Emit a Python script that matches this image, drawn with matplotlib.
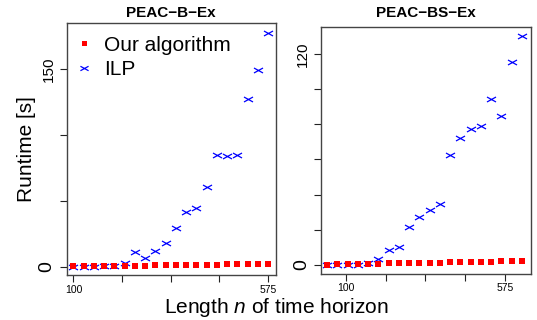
import matplotlib
matplotlib.use("Agg")
import matplotlib.pyplot as plt
from matplotlib.path import Path

plt.rcParams['font.family'] = ['Liberation Sans', 'DejaVu Sans']
plt.rcParams['mathtext.fontset'] = 'custom'
plt.rcParams['mathtext.rm'] = 'Liberation Sans'
plt.rcParams['mathtext.it'] = 'Liberation Sans:italic'

n_vals = [100, 125, 150, 175, 200, 225, 250, 275, 300, 325,
          350, 375, 400, 425, 450, 475, 500, 525, 550, 575]

b_ours = [0.2, 0.3, 0.4, 0.5, 0.6, 0.7, 0.8, 0.9, 1.0, 1.1,
          1.2, 1.3, 1.4, 1.5, 1.6, 1.7, 1.8, 1.9, 2.0, 2.3]
b_ilp = [0.0, 0.0, 0.0, 0.5, 0.5, 2.5, 11.4, 6.3, 12.2, 18.0,
         29.2, 41.8, 44.9, 60.8, 85.1, 84.4, 84.9, 127.5, 149.5, 177.8]

bs_ours = [0.2, 0.3, 0.4, 0.5, 0.7, 0.8, 0.9, 1.0, 1.1, 1.2,
           1.3, 1.4, 1.5, 1.6, 1.7, 1.8, 1.9, 2.0, 2.1, 2.3]
bs_ilp = [0.0, 0.0, 0.0, 0.0, 1.0, 3.6, 8.4, 10.2, 21.4, 27.3,
          31.3, 34.5, 62.4, 72.4, 77.2, 79.1, 94.2, 84.9, 115.4, 130.4]

xtick_labels = ["100", "", "", "", "575"]
titles = ["PEAC\u2212B\u2212Ex", "PEAC\u2212BS\u2212Ex"]
legend_labels = ["Our algorithm", "ILP"]

cross = Path([(-1, -0.55), (1, 0.55), (-1, 0.55), (1, -0.55)],
             [Path.MOVETO, Path.LINETO, Path.MOVETO, Path.LINETO])

fig = plt.figure(figsize=(5.37, 3.2), dpi=100)
ax1 = fig.add_axes([0.1242, 0.1406, 0.3892, 0.7866])
ax2 = fig.add_axes([0.5983, 0.1453, 0.3900, 0.7703])

panels = [
    (ax1, b_ours, b_ilp, (83.4, 593.8), (-6.3, 184.9), [0, 50, 100, 150], ["0", "", "", "150"],
     [100, 218.75, 337.5, 456.25, 575]),
    (ax2, bs_ours, bs_ilp, (86.1, 596.2), (-4.83, 135.3), [0, 20, 40, 60, 80, 100, 120],
     ["0", "", "", "", "", "", "120"], [146.3, 243.1, 339.9, 436.7, 533.5]),
]

for i, (ax, ours, ilp, xl, yl, yt, ytl, xt) in enumerate(panels):
    ax.plot(n_vals, ours, linestyle='none', marker='s', markersize=4.0,
            color='#ff0000', markeredgewidth=0, label=legend_labels[0], zorder=3)
    ax.plot(n_vals, ilp, linestyle='none', marker=cross, markersize=6.5,
            color='#0000ff', markeredgewidth=0.9, label=legend_labels[1], zorder=2)
    ax.set_xlim(*xl)
    ax.set_ylim(*yl)
    ax.set_yticks(yt)
    ax.set_yticklabels(ytl, rotation=90, va='center')
    labs = ax.get_yticklabels()
    for j, lab in enumerate(labs):
        lab.set_fontsize(14 if j == 0 else 11)
    ax.set_xticks(xt)
    ax.set_xticklabels(xtick_labels, fontsize=7.5)
    ax.tick_params(axis='both', direction='out', length=5, width=0.8, color='#222222')
    ax.tick_params(axis='y', pad=3)
    ax.tick_params(axis='x', pad=2)
    for s in ax.spines.values():
        s.set_color('#444444')
        s.set_linewidth(1.0)
    pos = ax.get_position()
    fig.text(pos.x0 + pos.width / 2, 1 - 13 / 320, titles[i], ha='center', va='center',
             fontsize=11, fontweight='bold')

ax1.set_ylabel("Runtime [s]", fontsize=15, labelpad=2)
leg = ax1.legend(loc='upper left', frameon=False, fontsize=15, handletextpad=0.45,
                 borderaxespad=0.15, labelspacing=0.25, handlelength=1.0,
                 borderpad=0.2, markerscale=0.9, bbox_to_anchor=(0.0, 0.98))

fig.text(0.514, 0.04, "Length $\\mathit{n}$ of time horizon", ha='center', va='center', fontsize=15)

fig.savefig("out.png", dpi=100)
